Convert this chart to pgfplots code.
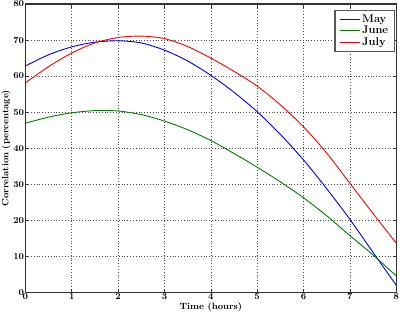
\documentclass[border=0pt]{standalone}
\usepackage{pgfplots}
\pgfplotsset{compat=1.18}
\definecolor{mplblue}{rgb}{0,0,1}
\definecolor{mplgreen}{rgb}{0,0.5,0}
\definecolor{mplred}{rgb}{1,0,0}
\begin{document}
\begin{tikzpicture}
\begin{axis}[
  scale only axis,
  width=367pt, height=285pt,
  xmin=0, xmax=8, ymin=0, ymax=80,
  xtick={0,1,...,8}, ytick={0,10,...,80},
  grid=major,
  major grid style={black!70, line width=0.5pt, dash pattern=on 0.6pt off 2.2pt},
  axis line style={black!80, line width=1.1pt},
  tick style={black!80, line width=0.5pt},
  major tick length=3.5pt,
  tick align=inside,
  /pgf/number format/assume math mode=true,
  xlabel={\bfseries Time (hours)},
  ylabel={\bfseries Correlation (percentage)},
  xlabel style={font=\small, inner sep=0pt, yshift=-2pt},
  ylabel style={font=\small, inner sep=1.5pt},
  xticklabel style={font=\small\bfseries, inner sep=1pt},
  yticklabel style={font=\small\bfseries, inner sep=1pt},
  legend style={at={(0.996,0.981)}, anchor=north east, draw=black!65, line width=1.1pt,
    font=\fontsize{11}{12}\selectfont\bfseries, row sep=-1.5pt, inner xsep=4pt, inner ysep=2.5pt},
  legend cell align=left,
  legend image code/.code={\draw[#1] plot coordinates {(0cm,0cm) (0.35cm,0cm) (0.7cm,0cm)};},
  every axis plot/.append style={line width=0.9pt},
]
\addplot[mplblue, smooth] coordinates {
 (0,62.8) (0.5,65.9) (1,68.1) (1.5,69.4) (2,69.8) (2.5,69.2) (3,67.2) (3.5,64.2)
 (4,60.2) (4.5,55.5) (5,50.1) (5.5,43.8) (6,36.7) (6.5,28.7) (7,20.2) (7.5,11.0) (8,1.9)};
\addlegendentry{May}
\addplot[mplgreen, smooth] coordinates {
 (0,46.9) (0.5,48.6) (1,49.8) (1.5,50.4) (2,50.3) (2.5,49.3) (3,47.5) (3.5,45.1)
 (4,42.1) (4.5,38.5) (5,34.7) (5.5,30.6) (6,26.2) (6.5,21.2) (7,15.7) (7.5,10.3) (8,4.5)};
\addlegendentry{June}
\addplot[mplred, smooth] coordinates {
 (0,58.1) (0.5,62.6) (1,66.4) (1.5,69.2) (2,70.7) (2.5,71.1) (3,70.4) (3.5,68.2)
 (4,65.0) (4.5,61.3) (5,57.2) (5.5,52.0) (6,45.9) (6.5,38.6) (7,30.2) (7.5,21.8) (8,13.6)};
\addlegendentry{July}
\end{axis}
\end{tikzpicture}
\end{document}
